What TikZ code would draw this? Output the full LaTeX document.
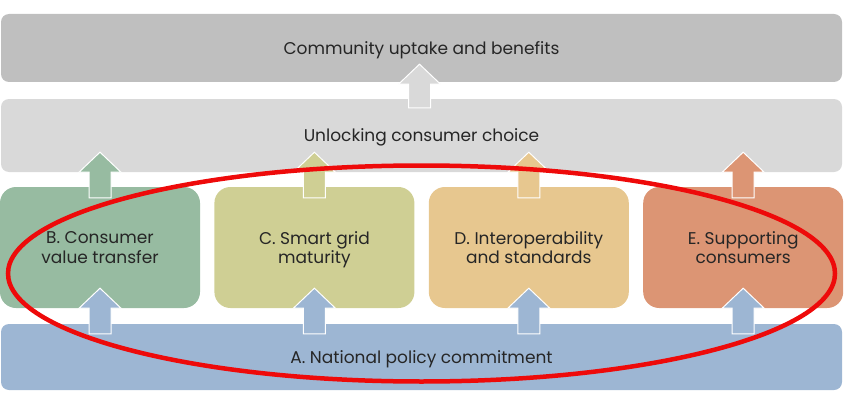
\documentclass[tikz,border=0pt]{standalone}
\usepackage{fontspec}
\setmainfont{Poppins}
\usetikzlibrary{positioning,calc}

\definecolor{inktext}{HTML}{262626}
\definecolor{benefitgray}{HTML}{BFBFBF}
\definecolor{choicegray}{HTML}{D9D9D9}
\definecolor{valuegreen}{HTML}{97BBA1}
\definecolor{gridolive}{HTML}{CFCF94}
\definecolor{standardtan}{HTML}{E7C78F}
\definecolor{supportsalmon}{HTML}{DC9574}
\definecolor{policyblue}{HTML}{9DB6D3}
\definecolor{focusred}{HTML}{EE0A0A}

\tikzset{
  boxtext/.style={text=inktext, align=center, inner sep=0pt, text depth=0pt,
    font=\fontsize{17}{19.5}\selectfont},
  layer/.style={boxtext, rounded corners=8pt, minimum width=841pt},
  pillar/.style={boxtext, rounded corners=16pt, minimum width=200pt,
    minimum height=121pt},
  liftarrow/.style={draw=white, line width=1pt,
    to path={let \p1=(\tikztostart), \p2=(\tikztotarget) in
      (\x1-11pt,\y1) -- (\x1-11pt,\y2-20pt) -- (\x1-21pt,\y2-20pt)
      -- (\x1,\y2) -- (\x1+21pt,\y2-20pt) -- (\x1+11pt,\y2-20pt)
      -- (\x1+11pt,\y1) -- cycle}}
}

\begin{document}
\begin{tikzpicture}[x=1pt,y=1pt]
  \useasboundingbox (0,0) rectangle (846,416);

  \node[layer, fill=benefitgray, minimum height=68pt] (T) at (421.5,368)
    {Community uptake and benefits};
  \node[layer, fill=choicegray, minimum height=73pt] (U) at (421.5,280.5)
    {Unlocking consumer choice};
  \node[pillar, fill=valuegreen] (B) at (100,168.5)
    {B. Consumer\\value transfer};
  \node[pillar, fill=gridolive, right=14pt of B] (C)
    {C. Smart grid\\maturity};
  \node[pillar, fill=standardtan, right=14pt of C] (D)
    {D. Interoperability\\and standards};
  \node[pillar, fill=supportsalmon, right=14pt of D] (E)
    {E. Supporting\\consumers};
  \node[layer, fill=policyblue, minimum height=66pt] (A) at (421.5,59)
    {A. National policy commitment};

  \path[liftarrow, fill=choicegray]
    ($(U.north)+(-2,-9)$) to ($(T.south)+(-2,18)$);
  \path[liftarrow, fill=valuegreen]
    ($(B.north)+(0,-11)$) to ($(B.north |- U.south)+(0,20)$);
  \path[liftarrow, fill=gridolive]
    ($(C.north)+(0,-11)$) to ($(C.north |- U.south)+(0,20)$);
  \path[liftarrow, fill=standardtan]
    ($(D.north)+(0,-11)$) to ($(D.north |- U.south)+(0,20)$);
  \path[liftarrow, fill=supportsalmon]
    ($(E.north)+(0,-11)$) to ($(E.north |- U.south)+(0,20)$);
  \foreach \pillar in {B,C,D,E}
    \path[liftarrow, fill=policyblue]
      ($(\pillar.south |- A.north)+(0,-10)$) to ($(\pillar.south)+(0,20)$);

  \draw[focusred, line width=4.5pt] (421.5,142.5)
    ellipse [x radius=413.5, y radius=108];
\end{tikzpicture}
\end{document}
